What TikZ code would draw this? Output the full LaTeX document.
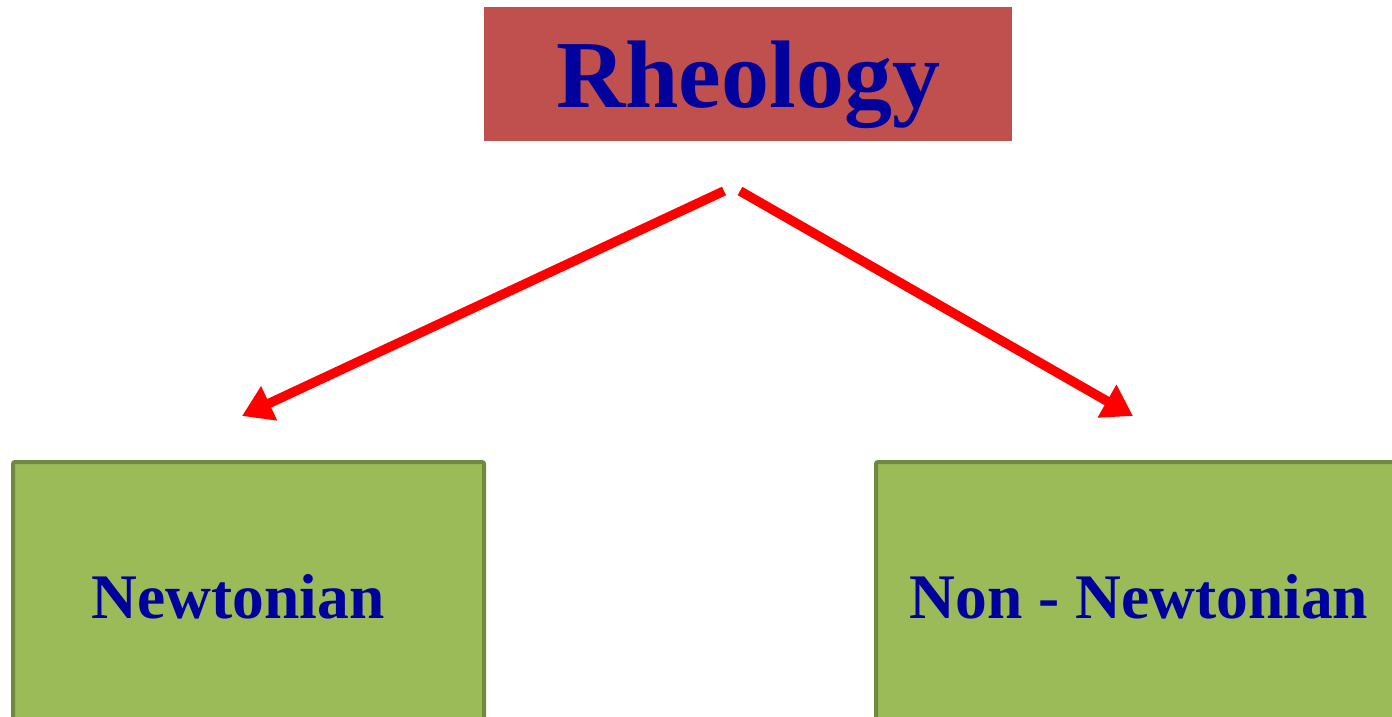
\documentclass[tikz,border=0pt]{standalone}
\usepackage{fontspec}
\setmainfont{Liberation Serif}
\usetikzlibrary{arrows.meta}
\definecolor{rheored}{HTML}{C0504D}
\definecolor{boxgreen}{HTML}{9BBB59}
\definecolor{boxedge}{HTML}{71893F}
\definecolor{txtblue}{HTML}{00009C}
\tikzset{
  titlebox/.style={fill=rheored, draw=none, inner sep=0pt},
  greenbox/.style={fill=boxgreen, draw=boxedge, line width=4pt, rounded corners=2pt},
  label/.style={text=txtblue, font=\bfseries, inner sep=0pt},
  redarrow/.style={draw=red, line width=9.5pt, -{Triangle[length=30pt,width=36pt]}}
}
\begin{document}
\begin{tikzpicture}[x=1pt,y=-1pt]
\useasboundingbox (0,0) rectangle (1392,717);
\clip (0,0) rectangle (1392,717);
\fill[titlebox] (484,7) rectangle (1012,141);
\node[label, font=\bfseries\fontsize{96}{100}\selectfont] (rheo) at (748,85) {Rheology};
\draw[greenbox] (13,462) rectangle (484,740);
\draw[greenbox] (876,462) rectangle (1420,740);
\node[label, font=\bfseries\fontsize{63.5}{66}\selectfont] (newt) at (238,597) {Newtonian};
\node[label, font=\bfseries\fontsize{63.5}{66}\selectfont] (nonnewt) at (1139,597) {Non - Newtonian};
\coordinate (s1) at (724,191);
\coordinate (s2) at (740,191);
\coordinate (t1) at (242,416);
\coordinate (t2) at (1133,416);
\draw[redarrow] (s1) -- (t1);
\draw[redarrow] (s2) -- (t2);
\end{tikzpicture}
\end{document}
